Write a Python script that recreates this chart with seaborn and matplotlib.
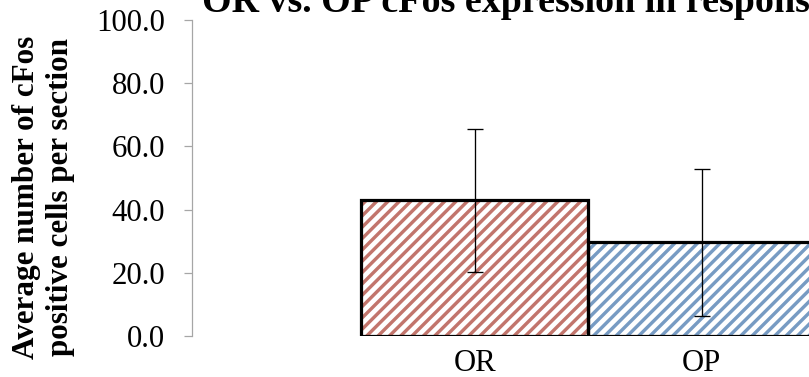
import numpy as np
import pandas as pd
import matplotlib
matplotlib.use("Agg")
import matplotlib.pyplot as plt
import seaborn as sns

# values
groups = ["OR", "OP"]
mean_cells = [42.9, 29.6]
err_cells = [22.6, 23.2]
bar_colors = ["#D0695E", "#6A9BD0"]
y_ticks = [0, 20, 40, 60, 80, 100]

sns.set_theme(style="white")
plt.rcParams['font.family'] = ['Liberation Serif', 'DejaVu Serif']
plt.rcParams['hatch.linewidth'] = 3.6

DPI = 68
W, H = 809, 377
fig = plt.figure(figsize=(W / DPI, H / DPI), dpi=DPI, facecolor="white")
ax = fig.add_axes([192 / W, 41 / H, 1 - 192 / W, 316 / H])

df = pd.DataFrame({"group": groups, "cells": mean_cells})

# hatched fill
sns.barplot(data=df, x="group", y="cells", hue="group", palette=bar_colors,
            width=1.0, errorbar=None, legend=False, ax=ax)
bars = list(ax.patches)
for p in bars:
    col = p.get_facecolor()
    p.set_facecolor("white")
    p.set_edgecolor(col)
    p.set_hatch("//")
    p.set_linewidth(0)

# black outline on top
sns.barplot(data=df, x="group", y="cells", color="white",
            width=1.0, errorbar=None, ax=ax)
for p in ax.patches[len(bars):]:
    p.set_facecolor("none")
    p.set_edgecolor("black")
    p.set_linewidth(3.4)
    p.set_joinstyle("miter")

xs = [p.get_x() + p.get_width() / 2 for p in bars]
ax.errorbar(xs, mean_cells, yerr=err_cells, fmt="none", ecolor="black",
            elinewidth=1.4, capsize=8, capthick=1.4, zorder=5)

ax.set_xlim(-1.246, 1.472)
ax.set_ylim(0, 100)
ax.set_yticks(y_ticks)
ax.yaxis.set_major_formatter(matplotlib.ticker.FormatStrFormatter("%.1f"))
ax.set_xlabel("")
ax.set_ylabel("")

for s in ["top", "right", "bottom"]:
    ax.spines[s].set_visible(False)
ax.spines["left"].set_color("#A6A6A6")
ax.spines["left"].set_linewidth(1.3)

ax.tick_params(axis="y", direction="out", length=8.5, width=1.3, color="#A6A6A6",
               labelsize=32.5, labelcolor="black", pad=20, left=True)
ax.tick_params(axis="x", length=0, labelsize=32.5, labelcolor="black", pad=14)

fig.text(43.5 / W, 1 - 197 / H, "Average number of cFos\npositive cells per section",
         rotation=90, ha="center", va="center", multialignment="center",
         fontsize=33, fontweight="bold", color="black", linespacing=1.25)

fig.text(202 / W, 1 - 12 / H, "OR vs. OP cFos expression in response",
         ha="left", va="baseline", fontsize=40.3, fontweight="bold", color="black")

fig.savefig("out.png", dpi=DPI, facecolor="white")
